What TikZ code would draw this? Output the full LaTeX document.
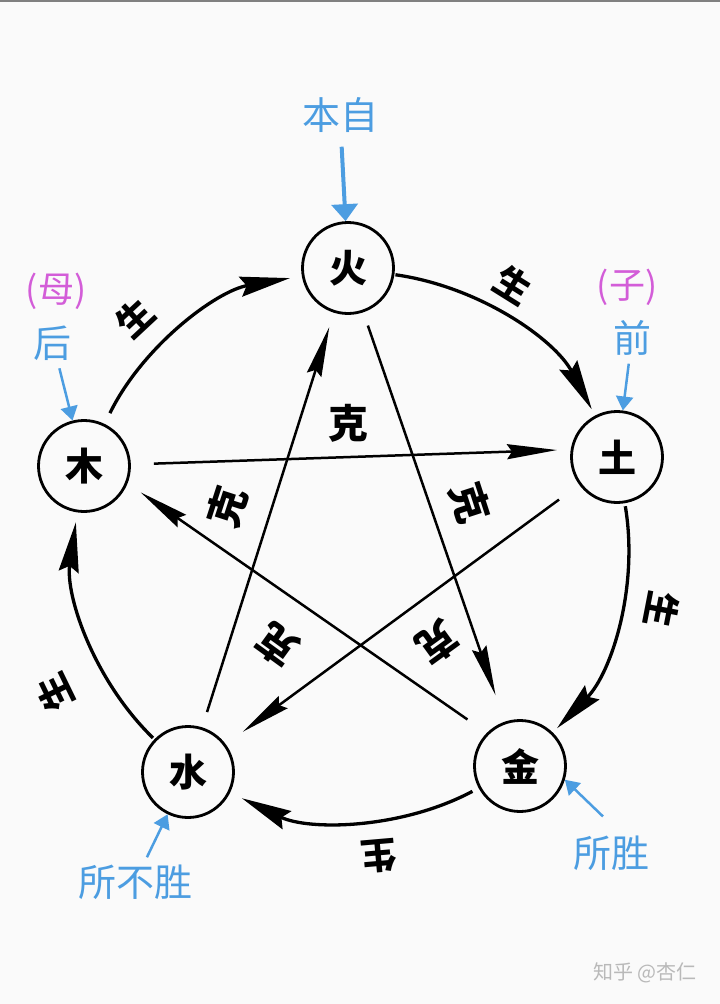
\documentclass[tikz,border=0pt]{standalone}
\usepackage{fontspec}
\newfontfamily\cjk{Noto Sans CJK SC}
\usetikzlibrary{arrows.meta}
\definecolor{annblue}{RGB}{76,157,225}
\definecolor{annpink}{RGB}{211,93,216}
\definecolor{wmgray}{RGB}{185,185,185}
\definecolor{bggray}{RGB}{250,250,250}
\begin{document}
\begin{tikzpicture}[x=1pt,y=1pt,
  elem/.style={circle,draw=black,line width=2.8pt,minimum size=91pt,inner sep=0pt,font=\cjk\bfseries\fontsize{38}{38}\selectfont},
  gen/.style={line width=3.3pt,-{Stealth[length=50pt,width=20pt,inset=6pt]}},
  ke/.style={line width=2.5pt,-{Stealth[length=50pt,width=15pt,inset=5pt]}},
  shenglab/.style={font=\cjk\bfseries\fontsize{36}{36}\selectfont,inner sep=0pt},
  kelab/.style={font=\cjk\bfseries\fontsize{40}{40}\selectfont,inner sep=0pt},
  ann/.style={font=\cjk\fontsize{38}{38}\selectfont,text=annblue,inner sep=0pt},
  annpk/.style={font=\cjk\fontsize{36}{36}\selectfont,text=annpink,inner sep=0pt},
  bigblue/.style={draw=annblue,line width=4pt,-{Triangle[length=17pt,width=26pt]}},
  smallblue/.style={draw=annblue,line width=2.5pt,-{Triangle[length=14pt,width=17pt]}},
]
\useasboundingbox (0,0) rectangle (720,-1004);
\fill[bggray] (0,0) rectangle (720,-1004);
\draw[gray,line width=2pt] (0,-1) -- (720,-1);

% elements
\node[elem] (huo)  at (348,-268) {火};
\node[elem] (tu)   at (617,-457) {土};
\node[elem] (mu)   at (84,-466)  {木};
\node[elem] (shui) at (188,-772) {水};
\node[elem] (jin)  at (520,-766) {金};

% generating cycle (outer arcs)
\draw[gen,shorten <=12pt,shorten >=12pt] (mu)   to[bend left=27,looseness=0.9] (huo);
\draw[gen,shorten <=1pt, shorten >=7pt]  (huo)  to[bend left=27,looseness=0.9] (tu);
\draw[gen,shorten <=3pt, shorten >=6pt]  (tu)   to[bend left=27,looseness=0.9] (jin);
\draw[gen,shorten <=7pt, shorten >=13pt] (jin)  to[bend left=27,looseness=0.9] (shui);
\draw[gen,shorten <=2pt, shorten >=10pt] (shui) to[bend left=27,looseness=0.9] (mu);

% controlling cycle (star)
\draw[ke,shorten <=14pt,shorten >=28pt] (huo) -- (jin);
\draw[ke,shorten <=64pt,shorten >=69pt] ([yshift=10pt]jin.center) -- ([yshift=13pt]mu.center);
\draw[ke,shorten <=23pt,shorten >=60pt] (mu) -- ([yshift=9pt]tu.center);
\draw[ke,shorten <=25pt,shorten >=21pt] (tu) -- (shui);
\draw[ke,shorten <=16pt,shorten >=15pt] (shui) -- (huo);

% labels
\node[shenglab,rotate=43]   (s1) at (135,-318) {生};
\node[shenglab,rotate=-32]  (s2) at (513,-285) {生};
\node[shenglab,rotate=-101] (s3) at (662,-610) {生};
\node[shenglab,rotate=-175] (s4) at (379,-856) {生};
\node[shenglab,rotate=116]  (s5) at (55,-693)  {生};

\node[kelab]             (k1) at (348,-423) {克};
\node[kelab,rotate=72]   (k2) at (227,-507) {克};
\node[kelab,rotate=-72]  (k3) at (470,-503) {克};
\node[kelab,rotate=144]  (k4) at (277,-645) {克};
\node[kelab,rotate=-144] (k5) at (437,-643) {克};

% annotations
\node[ann] (benzi) at (340,-115) {本自};
\draw[bigblue,shorten <=14pt] (benzi) -- (huo);

\node[annpk] (muq) at (56,-291) {(母)};
\node[ann] (hou) at (53,-343) {后};
\draw[smallblue,shorten <=8pt] (hou) -- (mu);

\node[annpk] (ziq) at (627,-287) {(子)};
\node[ann] (qian) at (632,-338) {前};
\draw[smallblue,shorten <=8pt] (qian) -- (tu);

\node[ann] (suobusheng) at (135,-882) {所不胜};
\draw[smallblue,shorten <=8pt] (suobusheng) -- (shui);

\node[ann] (suosheng) at (611,-853) {所胜};
\draw[smallblue] ([xshift=-8pt,yshift=19pt]suosheng.north) -- (jin.-17);

\node[font=\cjk\fontsize{20}{20}\selectfont,text=wmgray,inner sep=0pt] (wm) at (645,-973) {知乎 @杏仁};
\end{tikzpicture}
\end{document}
